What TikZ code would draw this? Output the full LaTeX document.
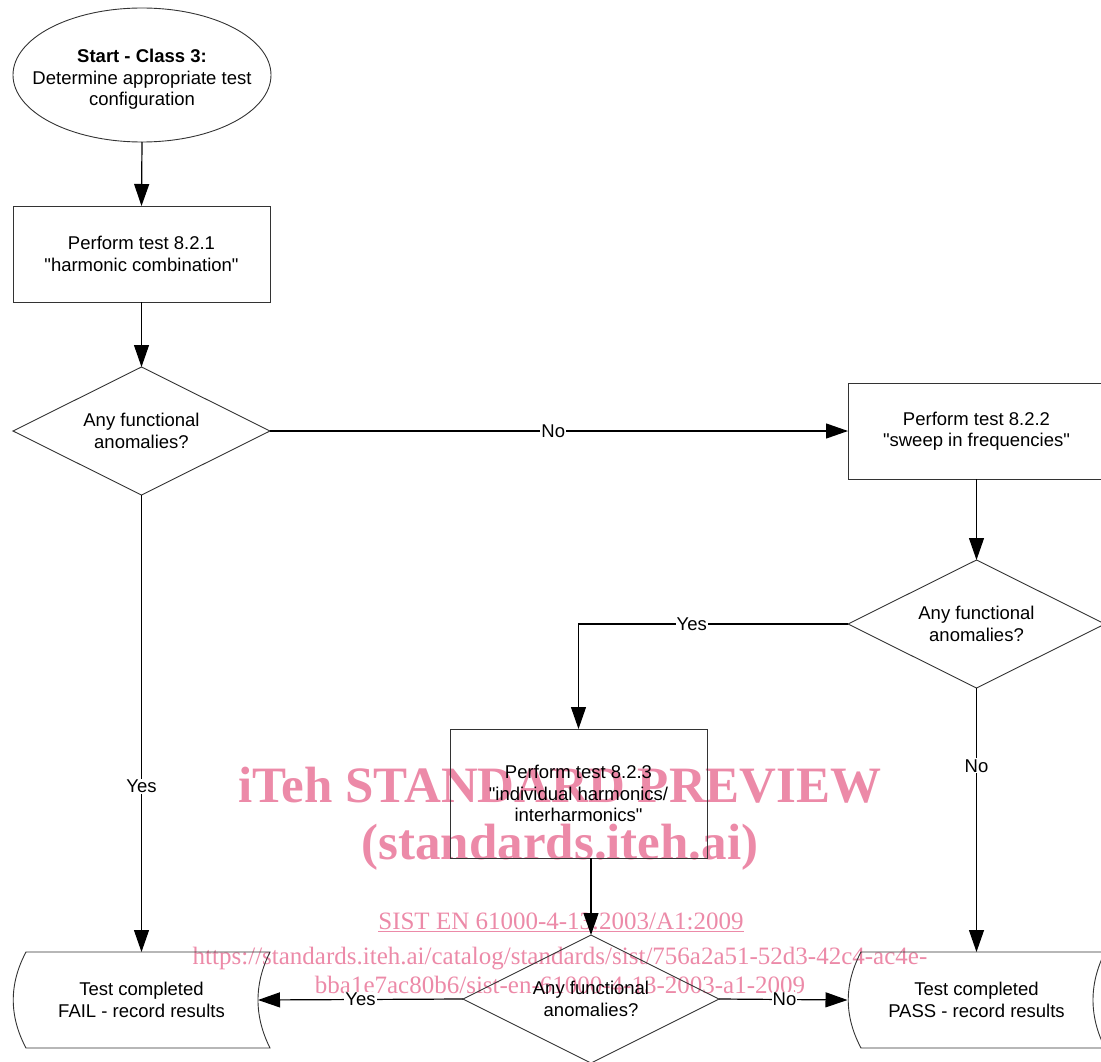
\documentclass[tikz,border=0pt]{standalone}
\usepackage{fontspec}
\setmainfont{Liberation Sans}[Ligatures=TeXOff]
\newfontfamily\wmfont{Liberation Serif}
\usetikzlibrary{shapes.geometric,arrows.meta,calc}
\definecolor{wmpink}{RGB}{236,138,168}
\newcommand\dq{\symbol{34}}
\begin{document}
\begin{tikzpicture}[x=1pt,y=-1pt,
  font=\fontsize{18.5}{21.5}\selectfont,
  shapeline/.style={draw=black!80,line width=0.9pt},
  procbox/.style={shapeline,rectangle,minimum width=257pt,minimum height=96pt,inner sep=0pt,outer sep=0pt,align=center},
  decision/.style={shapeline,diamond,aspect=2,minimum width=257pt,minimum height=128pt,inner sep=0pt,outer sep=0pt,align=center},
  termbox/.style={rectangle,minimum width=257pt,minimum height=96pt,inner sep=0pt,outer sep=0pt,align=center},
  conn/.style={line width=1.2pt,-{Triangle[length=22pt,width=15pt]}},
  lbl/.style={fill=white,inner sep=1pt,font=\fontsize{18.5}{21.5}\selectfont},
  wmbig/.style={text=wmpink,font=\wmfont\bfseries\fontsize{51}{58}\selectfont,inner sep=0pt},
  wmsmall/.style={text=wmpink,font=\wmfont\fontsize{25}{29}\selectfont,inner sep=0pt}
]
\useasboundingbox (0,0) rectangle (1101,1062);
% watermark
\node[wmbig] (wm1) at (560,785) {iTeh STANDARD PREVIEW};
\node[wmbig,anchor=base] (wm2) at (560,859) {(standards.iteh.ai)};
\node[wmsmall,anchor=base] (wm3) at (561,929) {\underline{SIST EN 61000-4-13:2003/A1:2009}};
\node[wmsmall,anchor=base] (wm4) at (560,964) {https://standards.iteh.ai/catalog/standards/sist/756a2a51-52d3-42c4-ac4e-};
\node[wmsmall,anchor=base] (wm5) at (560,993) {bba1e7ac80b6/sist-en-61000-4-13-2003-a1-2009};
% nodes
\node[shapeline,ellipse,minimum width=258pt,minimum height=134pt,inner sep=0pt,outer sep=0pt] (start) at (142,75) {};
\node[align=center,inner sep=0pt] (starttext) at (142,79.5) {\textbf{Start - Class 3:}\\Determine appropriate test\\configuration};
\node[procbox] (b1) at (141.5,254) {Perform test 8.2.1\\\dq harmonic combination\dq};
\node[decision] (d1) at (141.5,431) {Any functional\\anomalies?};
\node[procbox] (b2) at (976.5,431) {Perform test 8.2.2\\\dq sweep in frequencies\dq};
\node[decision] (d2) at (976.5,624) {Any functional\\anomalies?};
\node[procbox,minimum height=129pt] (b3) at (578.5,793.5) {Perform test 8.2.3\\\dq individual harmonics/\\interharmonics\dq};
\node[decision,minimum width=256pt] (d3) at (591,999) {Any functional\\anomalies?};
\node[termbox] (fail) at (141.5,1000) {Test completed\\FAIL - record results};
\node[termbox] (pass) at (976.5,1000) {Test completed\\PASS - record results};
% stored-data outlines
\foreach \n in {fail,pass}{
  \draw[shapeline,shift={(\n.center)}]
    (-115.5,-48) -- (128.5,-48)
    .. controls (112.5,-16) and (112.5,16) .. (128.5,48)
    -- (-115.5,48)
    .. controls (-132.5,16) and (-132.5,-16) .. (-115.5,-48) -- cycle;
}
\coordinate (failin) at ($(fail.east)+(-12,0)$);
\coordinate (passin) at ($(pass.west)+(-0.5,0)$);
% connectors
\draw[conn] (start.south) -- (b1.north);
\draw[conn] (b1.south) -- (d1.north);
\draw[conn] (d1.east) -- node[lbl,pos=0.49] {No} (b2.west);
\draw[conn] (d1.south) -- node[lbl,pos=0.637] {Yes} (fail.north);
\draw[conn] (b2.south) -- (d2.north);
\draw[conn] (d2.west) -| node[lbl,pos=0.29] {Yes} (b3.north);
\draw[conn] (d2.south) -- node[lbl,pos=0.295] {No} (pass.north);
\draw[conn] (d3.north |- b3.south) -- (d3.north);
\draw[conn] (d3.west) -- node[lbl,pos=0.5] {Yes} (failin);
\draw[conn] (d3.east) -- node[lbl,pos=0.51] {No} (passin);
\end{tikzpicture}
\end{document}
